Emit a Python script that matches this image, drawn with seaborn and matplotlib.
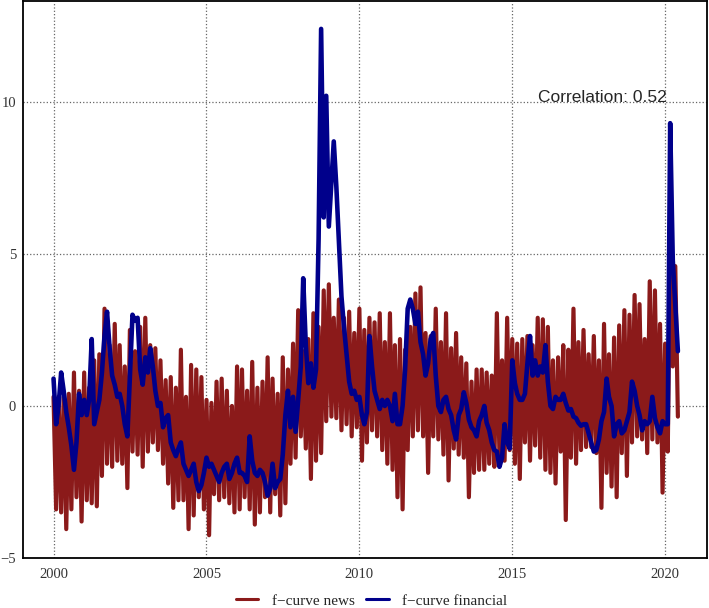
import numpy as np
import pandas as pd
import matplotlib
matplotlib.use('Agg')
import matplotlib.pyplot as plt
import matplotlib.dates as mdates
from matplotlib.lines import Line2D
import seaborn as sns

# monthly values, Jan 2000 - Jun 2020
financial = [
    0.9, -0.6, 0.0, 1.1, 0.5, -0.2, -0.7, -1.3, -2.1, -1.2, 0.4, -0.3,
    0.2, -0.3, 0.2, 2.2, -0.6, -0.2, 0.2, 1.1, 2.3, 3.1, 1.9, 1.0,
    0.7, 0.3, 0.4, 0.0, -0.6, -1.0, 1.0, 3.0, 2.8, 2.9, 1.2, 0.7,
    1.6, 1.1, 1.9, 1.3, 0.5, 0.0, 0.1, -0.7, -0.4, -0.3, -1.2, -1.45,
    -1.65, -1.4, -1.2, -1.9, -2.1, -2.3, -2.1, -1.9, -2.5, -2.8, -2.6, -2.2,
    -1.7, -2.0, -1.9, -2.1, -2.3, -2.5, -2.2, -2.0, -1.9, -2.4, -2.2, -1.9,
    -1.7, -2.2, -2.2, -2.3, -2.5, -1.0, -1.8, -2.2, -2.3, -2.1, -2.2, -2.5,
    -2.95, -2.7, -1.9, -2.7, -2.5, -2.4, -1.6, -0.3, 0.5, -0.7, 0.3, -0.85,
    0.2, 1.3, 4.2, 2.0, 0.75, 1.4, 0.6, 1.2, 5.5, 12.4, 6.2, 10.2,
    5.9, 7.4, 8.7, 7.2, 5.4, 3.6, 2.6, 1.7, 0.8, 0.4, 0.5, 0.2,
    0.3, -0.3, -0.6, -0.2, 2.3, 1.3, 0.5, 0.2, -0.1, 0.2, 0.0, 0.2,
    0.0, -0.5, 0.4, -0.6, -0.6, 0.0, 1.2, 3.2, 3.5, 3.2, 2.7, 3.1,
    2.1, 1.7, 1.0, 1.4, 2.2, 2.4, 1.0, 0.0, -0.2, 0.2, 0.3, -0.1,
    -0.3, -0.8, -1.1, -0.3, -0.1, 0.45, 0.1, -0.45, -0.7, -0.8, -1.0, -0.5,
    -0.3, 0.0, -0.55, -0.8, -1.2, -1.45, -1.5, -2.0, -1.7, -0.6, -1.2, -1.4,
    1.5, 0.75, 0.4, 0.2, 0.2, 0.4, 1.4, 2.3, 1.0, 1.5, 1.0, 1.3,
    1.1, 2.0, 0.8, 0.0, -0.1, 0.3, 0.2, 0.2, 0.4, 0.1, -0.15, -0.1,
    -0.35, -0.4, -0.55, -0.65, -0.6, -0.6, -0.9, -1.2, -1.5, -1.45, -1.1, -0.5,
    -0.2, 0.9, 0.3, 0.0, -1.0, -0.6, -0.5, -0.9, -0.8, -0.5, -0.2, 0.8,
    0.5, 0.0, -0.3, -0.8, -0.5, -0.6, -0.5, 0.3, -0.4, -0.7, -0.9, -0.5,
    -0.6, -0.6, 9.3, 4.8, 3.3, 1.8,
]

# news series: highs and lows of each two-month stretch
news_peaks = [
    0.3, 0.3, 0.3, 0.4, 1.1, 0.5, 1.1, 0.6, 1.5, 1.7,
    3.2, 2.0, 2.7, 2.0, 1.3, 2.5, 1.8, 2.6, 2.9, 2.0,
    1.9, 1.5, 0.85, 0.95, 0.6, 1.85, 0.3, 1.35, 1.2, 0.95,
    0.2, 0.1, 0.8, 0.9, 0.5, 0.0, 1.3, 1.2, 0.5, 1.45,
    0.6, 0.8, 1.6, 0.9, 0.4, 1.6, 1.2, 2.05, 3.15, 1.8,
    2.2, 3.05, 2.6, 3.8, 4.0, 2.9, 3.5, 2.9, 3.1, 2.4,
    3.2, 2.5, 2.9, 2.75, 3.05, 2.1, 3.05, 2.0, 2.2, 1.85,
    2.6, 3.7, 3.9, 2.4, 2.3, 3.2, 2.1, 3.05, 1.9, 2.4,
    1.6, 1.4, 0.8, 1.2, 1.2, 1.1, 1.0, 3.05, 1.5, 2.9,
    2.2, 2.05, 2.2, 2.3, 2.0, 2.9, 2.85, 2.6, 1.5, 1.6,
    2.0, 1.85, 3.2, 2.1, 2.5, 1.7, 2.3, 1.5, 2.7, 1.7,
    2.25, 2.65, 3.15, 3.0, 3.65, 3.35, 2.2, 4.1, 3.8, 2.7,
    2.05, 5.2, 4.6,
]
news_troughs = [
    -3.4, -3.5, -4.05, -3.4, -3.0, -3.8, -3.1, -3.2, -3.3, -2.3,
    -1.9, -2.0, -1.8, -1.9, -2.7, -1.5, -1.6, -2.0, -1.5, -1.2,
    -1.45, -1.9, -2.55, -3.35, -3.1, -3.1, -4.05, -3.6, -3.0, -3.4,
    -4.25, -2.9, -3.1, -3.0, -3.2, -3.5, -3.4, -3.0, -3.4, -3.9,
    -3.5, -3.0, -3.5, -2.9, -3.6, -3.2, -1.9, -1.7, -1.0, -1.4,
    -2.4, -1.8, -1.55, -0.5, -0.35, -0.4, -0.8, -0.6, -1.0, -0.7,
    -1.8, -1.2, -0.8, -1.0, -1.45, -1.9, -2.1, -3.0, -3.4, -1.45,
    -1.0, -0.8, -1.0, -2.2, -1.0, -1.1, -1.6, -2.45, -1.4, -1.6,
    -1.7, -3.0, -2.2, -2.1, -2.1, -1.9, -2.0, -1.7, -1.8, -1.45,
    -1.9, -2.4, -1.2, -1.8, -1.3, -1.7, -2.1, -2.2, -2.55, -1.5,
    -3.75, -1.7, -1.9, -1.45, -1.35, -1.35, -1.55, -3.35, -2.2, -2.65,
    -3.0, -1.55, -2.3, -1.2, -1.0, -1.1, -1.55, -1.1, -1.2, -2.85,
    -1.5, 1.3, -0.35,
]

labels = ['f\u2212curve news', 'f\u2212curve financial']
RED = '#8b1a1a'
BLUE = '#00008b'

months = pd.date_range('2000-01-01', periods=len(financial), freq='MS')
news = np.column_stack([news_peaks, news_troughs]).ravel()
df_news = pd.DataFrame({'date': months[:len(news)], 'value': news})
df_fin = pd.DataFrame({'date': months, 'value': financial})

sns.set_style('white')
plt.rcParams['font.family'] = ['Liberation Serif', 'DejaVu Serif']

fig = plt.figure(figsize=(7.09, 6.08), dpi=100)
ax = fig.add_axes([0.0324, 0.0822, 0.9648, 0.9158])

sns.lineplot(data=df_news, x='date', y='value', color=RED, lw=3.0,
             estimator=None, ax=ax)
sns.lineplot(data=df_fin, x='date', y='value', color=BLUE, lw=3.3,
             estimator=None, ax=ax)

ax.set_xlim(pd.Timestamp('1999-01-01'), pd.Timestamp('2021-05-15'))
ax.set_ylim(-5, 13.31)
ax.xaxis.set_major_locator(mdates.YearLocator(5))
ax.xaxis.set_major_formatter(mdates.DateFormatter('%Y'))
ax.set_yticks([-5, 0, 5, 10])
ax.set_xlabel('')
ax.set_ylabel('')
ax.tick_params(length=0, labelsize=10.5, labelcolor='#333333')
ax.tick_params(axis='x', pad=7)
ax.tick_params(axis='y', pad=5)
ax.grid(True, linestyle=':', color='#666666', linewidth=0.9)
ax.set_axisbelow(True)
for sp in ax.spines.values():
    sp.set_color('black')
    sp.set_linewidth(1.3)

ax.text(pd.Timestamp('2015-10-30'), 10.0, 'Correlation: 0.52',
        family=['Liberation Sans', 'DejaVu Sans'], fontsize=12.5,
        ha='left', va='baseline')

handles = [Line2D([], [], color=RED, lw=2.2), Line2D([], [], color=BLUE, lw=2.2)]
fig.legend(handles, labels, loc='center', bbox_to_anchor=(0.524, 0.012),
           ncol=2, frameon=False, fontsize=11, handlelength=1.5,
           handletextpad=0.9, columnspacing=0.7)

fig.savefig('out.png', dpi=100)
